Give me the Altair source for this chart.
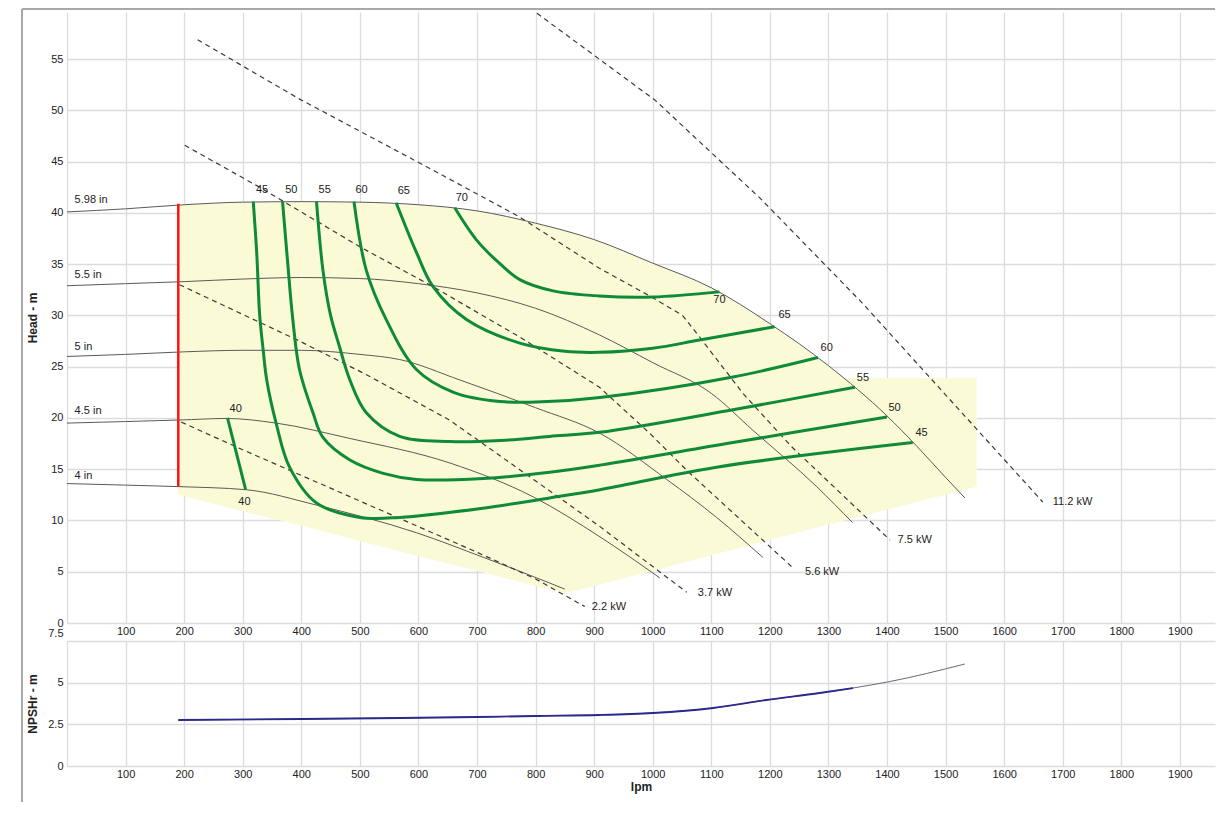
import altair as alt
import pandas as pd

# ---------------- data ----------------
# impeller diameter curves: flow (lpm) / head (m)
IMP_NAMES = ["5.98 in", "5.5 in", "5 in", "4.5 in", "4 in"]
Q_598 = [0, 100, 200, 300, 400, 500, 600, 700, 800, 900, 1000, 1100, 1200, 1300, 1400, 1450, 1500, 1533]
H_598 = [40.1, 40.4, 40.8, 41.05, 41.1, 41.05, 40.8, 40.2, 39.0, 37.4, 35.1, 32.7, 29.2, 25.1, 20.2, 17.3, 14.2, 12.2]
Q_550 = [0, 100, 200, 300, 400, 500, 600, 700, 800, 909, 1000, 1100, 1171, 1280, 1341]
H_550 = [32.9, 33.1, 33.3, 33.55, 33.7, 33.6, 33.1, 32.2, 30.7, 28.1, 25.4, 22.4, 18.8, 13.3, 9.8]
Q_500 = [0, 100, 200, 300, 400, 500, 568, 671, 800, 910, 1024, 1109, 1188]
H_500 = [26.0, 26.2, 26.45, 26.6, 26.6, 26.2, 25.7, 23.7, 21.0, 18.5, 14.0, 10.3, 6.4]
Q_450 = [0, 100, 192, 273, 357, 483, 654, 796, 910, 1012]
H_450 = [19.5, 19.65, 19.8, 19.95, 19.5, 18.0, 15.6, 12.3, 8.4, 4.4]
Q_400 = [0, 100, 192, 306, 426, 597, 711, 824, 850]
H_400 = [13.6, 13.45, 13.3, 13.0, 11.5, 8.8, 6.4, 3.9, 3.3]

# motor power lines
KW_NAMES = ["2.2 kW", "3.7 kW", "5.6 kW", "7.5 kW", "11.2 kW"]
Q_22 = [195, 300, 400, 500, 600, 700, 800, 884]
H_22 = [19.6, 16.9, 14.4, 11.9, 9.4, 6.9, 4.3, 1.6]
Q_37 = [192, 397, 512, 653, 846, 910, 1058]
H_37 = [33.0, 27.5, 24.2, 19.8, 12.0, 9.4, 3.0]
Q_56 = [201, 329, 500, 625, 773, 909, 995, 1058, 1239]
H_56 = [46.6, 42.5, 36.7, 32.8, 27.9, 23.0, 18.5, 14.9, 5.4]
Q_75 = [223, 394, 624, 773, 909, 995, 1051, 1080, 1154, 1237, 1405]
H_75 = [56.9, 51.2, 44.2, 39.6, 34.6, 31.9, 30.0, 27.9, 22.4, 17.2, 8.1]
Q_112 = [790, 1004, 1184, 1358, 1666]
H_112 = [60.0, 51.0, 41.4, 31.2, 11.8]

# efficiency iso-lines (%)
EFF_NAMES = ["40", "45", "50", "55", "60", "65", "70"]
Q_E40 = [274, 305]
H_E40 = [20.0, 13.0]
Q_E45 = [318, 324, 329, 335, 341, 357, 380, 426, 500, 568, 710, 824, 910, 1109, 1444]
H_E45 = [41.1, 36.0, 30.0, 26.6, 23.7, 19.5, 15.2, 11.7, 10.3, 10.3, 11.2, 12.2, 13.0, 15.2, 17.6]
Q_E50 = [368, 377, 385, 397, 420, 437, 483, 540, 597, 711, 824, 910, 1137, 1400]
H_E50 = [41.1, 35.0, 29.9, 24.7, 20.5, 18.1, 15.9, 14.6, 14.0, 14.1, 14.7, 15.4, 17.6, 20.1]
Q_E55 = [426, 437, 450, 465, 483, 511, 568, 654, 740, 824, 909, 1137, 1345]
H_E55 = [41.1, 34.4, 30.0, 27.0, 23.7, 20.5, 18.2, 17.7, 17.8, 18.2, 18.6, 20.8, 23.0]
Q_E60 = [490, 511, 545, 597, 660, 739, 820, 910, 1137, 1282]
H_E60 = [41.1, 34.4, 29.6, 24.7, 22.5, 21.6, 21.6, 22.0, 24.0, 25.9]
Q_E65 = [562, 597, 625, 682, 773, 850, 909, 1000, 1080, 1208]
H_E65 = [41.0, 36.1, 32.8, 29.6, 27.3, 26.5, 26.4, 26.8, 27.6, 28.9]
Q_E70 = [662, 700, 740, 773, 830, 909, 1000, 1114]
H_E70 = [40.5, 37.3, 35.0, 33.5, 32.4, 31.9, 31.8, 32.3]

# operating (shaded) region
AREA_Q = [190, 300, 400, 500, 600, 700, 800, 850, 900, 1000, 1100, 1200, 1300, 1328, 1553]
AREA_TOP = [40.85, 41.05, 41.1, 41.05, 40.8, 40.2, 39.0, 38.3, 37.4, 35.1, 32.7, 29.2, 25.1, 23.9, 23.9]
AREA_BOT = [12.5, 10.9, 9.5, 8.0, 6.5, 5.1, 3.6, 2.9, 3.6, 5.1, 6.6, 8.1, 9.6, 10.0, 13.3]

# minimum flow line
MIN_Q = 190
MIN_H = [13.3, 40.9]

# NPSHr
NPSH_Q = [190, 400, 568, 700, 800, 909, 1000, 1103, 1194, 1285, 1342, 1401, 1533]
NPSH_H = [2.76, 2.82, 2.88, 2.94, 3.0, 3.06, 3.18, 3.48, 3.96, 4.38, 4.68, 5.04, 6.12]
NPSH_BLUE_END = 1342
NPSH_TICKS = [0, 2.5, 5, 7.5]

# labels
IMP_LABEL_Q = [13, 13, 13, 13, 13]
IMP_LABEL_H = [41.3, 33.9, 26.9, 20.7, 14.3]
EFF_TOP_TXT = ["45", "50", "55", "60", "65", "70", "40"]
EFF_TOP_Q = [333, 383, 440, 503, 575, 674, 288]
EFF_TOP_H = [42.2, 42.2, 42.2, 42.2, 42.1, 41.5, 20.9]
EFF_END_TXT = ["70", "65", "60", "55", "50", "45", "40"]
EFF_END_Q = [1114, 1225, 1297, 1359, 1413, 1459, 303]
EFF_END_H = [31.5, 30.0, 26.8, 23.9, 21.0, 18.5, 11.8]
KW_LABEL_Q = [896, 1077, 1260, 1418, 1683]
KW_LABEL_H = [1.56, 2.9, 5.0, 8.1, 11.8]

# ---------------- tables ----------------
def long(names, qs, hs):
    rows = []
    for n, q, h in zip(names, qs, hs):
        for i, (a, b) in enumerate(zip(q, h)):
            rows.append({"name": n, "q": a, "h": b, "i": i})
    return pd.DataFrame(rows)

imp_df = long(IMP_NAMES, [Q_598, Q_550, Q_500, Q_450, Q_400], [H_598, H_550, H_500, H_450, H_400])
kw_df = long(KW_NAMES, [Q_22, Q_37, Q_56, Q_75, Q_112], [H_22, H_37, H_56, H_75, H_112])
eff_df = long(EFF_NAMES, [Q_E40, Q_E45, Q_E50, Q_E55, Q_E60, Q_E65, Q_E70],
              [H_E40, H_E45, H_E50, H_E55, H_E60, H_E65, H_E70])
area_df = pd.DataFrame({"q": AREA_Q, "top": AREA_TOP, "bot": AREA_BOT})
red_df = pd.DataFrame({"q": [MIN_Q], "h1": [MIN_H[0]], "h2": [MIN_H[1]]})
npsh_df = pd.DataFrame({"q": NPSH_Q, "h": NPSH_H})
npsh_blue_df = npsh_df[npsh_df.q <= NPSH_BLUE_END]
imp_lab = pd.DataFrame({"t": IMP_NAMES, "q": IMP_LABEL_Q, "h": IMP_LABEL_H})
eff_lab = pd.DataFrame({"t": EFF_TOP_TXT + EFF_END_TXT, "q": EFF_TOP_Q + EFF_END_Q, "h": EFF_TOP_H + EFF_END_H})
kw_lab = pd.DataFrame({"t": KW_NAMES, "q": KW_LABEL_Q, "h": KW_LABEL_H})

# ---------------- chart ----------------
W, H1, H2 = 1148, 611, 125
FONT = "Liberation Sans"
GRID = "#dcdcdc"
XDOM = [0, 1960]
YDOM = [0, 59.6]

def xenc(field="q", show_title=False):
    return alt.X(f"{field}:Q", scale=alt.Scale(domain=XDOM, nice=False, zero=False),
                 axis=alt.Axis(values=list(range(0, 2000, 100)),
                               labelExpr="datum.value == 0 ? '' : toString(datum.value)",
                               title="lpm" if show_title else None,
                               domain=False, ticks=False, labelPadding=2, grid=True,
                               gridColor=GRID, gridWidth=1.3, labelFlush=False,
                               titlePadding=2))

def yenc1(field="h"):
    return alt.Y(f"{field}:Q", scale=alt.Scale(domain=YDOM, nice=False),
                 axis=alt.Axis(values=list(range(0, 60, 5)), title="Head - m",
                               labelExpr="toString(datum.value)",
                               domain=False, ticks=False, labelPadding=4, grid=True,
                               gridColor=GRID, gridWidth=1.3, minExtent=24, maxExtent=24,
                               titlePadding=4))

area = alt.Chart(area_df).mark_area(color="#fbfad6", opacity=1).encode(
    x=xenc(), y=yenc1("top"), y2="bot:Q")
imp = alt.Chart(imp_df).mark_line(color="#5a5a5a", strokeWidth=1, interpolate="monotone").encode(
    x=xenc(), y=yenc1(), detail="name:N", order="i:Q")
kw = alt.Chart(kw_df).mark_line(color="#3a3a3a", strokeWidth=1.2, strokeDash=[5, 4],
                                interpolate="linear", clip=True).encode(
    x=xenc(), y=yenc1(), detail="name:N", order="i:Q")
eff = alt.Chart(eff_df).mark_line(color="#0f8a38", strokeWidth=3, interpolate="catmull-rom").encode(
    x=xenc(), y=yenc1(), detail="name:N", order="i:Q")
red = alt.Chart(red_df).mark_rule(color="#ff1111", strokeWidth=2.5).encode(
    x=xenc(), y=yenc1("h1"), y2="h2:Q")
t_imp = alt.Chart(imp_lab).mark_text(align="left", baseline="middle", font=FONT, fontSize=11,
                                     color="#222").encode(x=xenc(), y=yenc1(), text="t:N")
t_eff = alt.Chart(eff_lab).mark_text(align="center", baseline="middle", font=FONT, fontSize=11,
                                     color="#222").encode(x=xenc(), y=yenc1(), text="t:N")
t_kw = alt.Chart(kw_lab).mark_text(align="left", baseline="middle", font=FONT, fontSize=11,
                                   color="#222").encode(x=xenc(), y=yenc1(), text="t:N")
frame_src = pd.DataFrame({"a": [0]})
frame_top = alt.Chart(frame_src).mark_rule(color="#a8a8a8", strokeWidth=2).encode(
    x=alt.value(-45), x2=alt.value(W), y=alt.value(-3))
frame_left = alt.Chart(frame_src).mark_rule(color="#a8a8a8", strokeWidth=2).encode(
    x=alt.value(-45), y=alt.value(-3), y2=alt.value(790))

top = alt.layer(area, imp, kw, eff, red, t_imp, t_eff, t_kw, frame_top, frame_left).properties(
    width=W, height=H1)

def yenc2():
    return alt.Y("h:Q", scale=alt.Scale(domain=[0, 7.5], nice=False),
                 axis=alt.Axis(values=NPSH_TICKS, labelExpr="toString(datum.value)",
                               labelOffset={"condition": {"test": "datum.value == 7.5", "value": -8},
                                            "value": 0},
                               title="NPSHr - m",
                               domain=False, ticks=False, labelPadding=4, grid=True,
                               gridColor=GRID, gridWidth=1.3, minExtent=24, maxExtent=24,
                               titlePadding=4))

n_gray = alt.Chart(npsh_df).mark_line(color="#6a6a7a", strokeWidth=1, interpolate="monotone").encode(
    x=xenc(show_title=True), y=yenc2())
n_blue = alt.Chart(npsh_blue_df).mark_line(color="#2a2a8c", strokeWidth=1.8, interpolate="monotone").encode(
    x=xenc(show_title=True), y=yenc2())
bottom = alt.layer(n_gray, n_blue).properties(width=W, height=H2)

chart = alt.vconcat(top, bottom, spacing=18, bounds="flush").configure(
    padding={"left": 13, "top": 0, "right": 0, "bottom": 0},
    background="white",
).configure_view(stroke=None).configure_axis(
    labelFont=FONT, labelFontSize=11, labelColor="#222",
    titleFont=FONT, titleFontSize=12, titleFontWeight="bold", titleColor="#222",
)

chart.save("out.html", embed_options={"renderer": "svg", "actions": False})
